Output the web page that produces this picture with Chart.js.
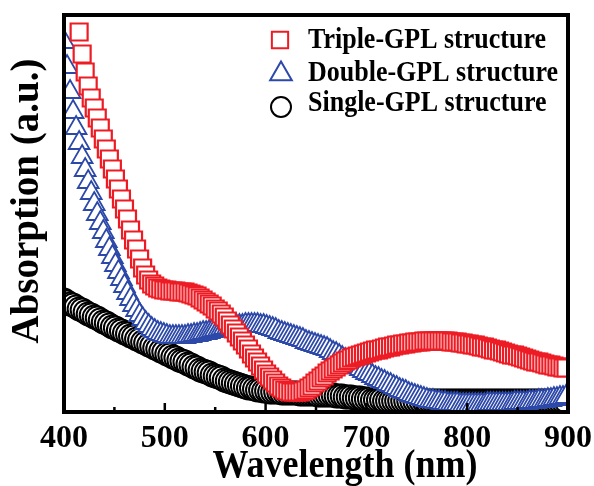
<!DOCTYPE html>
<html>
<head>
<meta charset="utf-8">
<script src="https://cdn.jsdelivr.net/npm/chart.js@4/dist/chart.umd.min.js"></script>
<style>
  html, body { margin: 0; padding: 0; background: #fff; }
  #wrap { width: 594px; height: 486px; }
</style>
</head>
<body>
<div id="wrap"><canvas id="c" width="594" height="486"></canvas></div>
<script>
// ---- data (absorption in arbitrary units) ----
const wavelengthStart = 400;   // nm
const wavelengthStep = 3;      // nm between samples

const tripleGPL = [
  495,475,455,433,405,380,358,340,326,314,304,294,284,273,263,253,243,233,223,213,
  203,193,182,172,163,153,144,137,132,128,126,124,123,122,122,121,121,121,120,120,
  120,119,118,117,116,114,112,110,108,106,103,101,98,95,91,87,83,79,75,71,
  67,63,58,54,50,46,42,38,35,32,29,26,24,22,21,20,20,20,20,21,
  22,24,26,29,31,34,36,39,41,43,45,47,49,51,52,54,55,56,57,58,
  59,60,61,62,62,63,64,65,65,66,67,67,68,68,69,69,70,70,70,71,
  71,71,71,71,71,71,71,71,70,70,70,69,69,68,68,67,67,66,65,65,
  64,63,62,62,61,60,59,58,57,57,56,55,54,53,52,51,50,50,49,48,
  47,47,46,45,45,44,44
];

const doubleGPL = [
  370,345,320,300,284,269,255,242,230,219,208,198,189,180,171,163,155,147,140,133,
  126,119,113,107,102,97,93,89,86,83,81,79,78,77,76,75,75,75,75,75,
  75,76,76,77,77,78,79,79,80,81,82,82,83,84,84,85,85,86,86,86,
  87,87,87,87,87,86,86,85,84,83,82,80,79,78,77,76,75,74,73,72,
  70,69,68,67,66,65,64,63,61,59,58,56,54,52,50,48,47,45,43,41,
  39,38,36,34,33,31,30,28,27,25,24,22,21,20,18,17,16,15,14,13,
  12,11,11,10,10,9,9,8,8,8,8,7,7,7,7,7,7,7,7,7,
  8,8,8,8,8,8,8,8,8,9,9,9,9,9,10,10,10,11,11,11,
  12,12,13,13,14,14,15
];

const singleGPL = [
  112,110,108,107,105,103,102,100,98,97,95,94,92,90,89,87,85,84,82,81,
  79,78,76,75,73,72,70,69,67,66,64,63,61,60,58,57,55,54,52,51,
  50,48,47,45,44,42,41,40,39,37,36,35,34,32,31,30,29,28,27,26,
  25,24,24,23,22,22,21,21,20,20,20,20,19,19,19,19,19,19,18,18,
  18,18,18,18,17,17,17,17,17,17,16,16,16,15,15,15,14,14,14,13,
  13,13,12,12,12,12,11,11,11,11,11,11,11,11,11,11,11,11,11,11,
  11,11,11,11,11,11,11,11,11,11,11,11,11,11,11,11,11,11,11,11,
  11,11,11,11,11,11,11,11,11,11,11,11,11,11,11,11,11,11,11,11,
  11,11,11,11,11,11,11
];

const seriesNames = ['Triple-GPL structure', 'Double-GPL structure', 'Single-GPL structure'];
const xTickValues = [400, 500, 600, 700, 800, 900];
const xMinorTickValues = [450, 550, 650, 750, 850];
const xTitle = 'Wavelength (nm)';
const yTitle = 'Absorption (a.u.)';

// ---- build points ----
const wavelengths = tripleGPL.map((_, i) => wavelengthStart + i * wavelengthStep);
const toPoints = arr => arr.map((v, i) => ({ x: wavelengths[i], y: v }));

const RED = 'rgb(237,28,36)';
const BLUE = 'rgb(44,72,168)';
const BLACK = '#000';
const FONT = "'Liberation Serif', 'Times New Roman', serif";

const styles = [
  { color: RED,   pointStyle: 'rect',     radius: 12,   bw: 2.2, legendR: 11.5 },
  { color: BLUE,  pointStyle: 'triangle', radius: 12,   bw: 1.8, legendR: 12.5 },
  { color: BLACK, pointStyle: 'circle',   radius: 11.5, bw: 2.0, legendR: 10 }
];
const seriesData = [tripleGPL, doubleGPL, singleGPL];

const datasets = seriesData.map((arr, k) => ({
  label: seriesNames[k],
  data: toPoints(arr),
  showLine: false,
  pointStyle: styles[k].pointStyle,
  pointRadius: styles[k].radius,
  pointBorderWidth: styles[k].bw,
  pointBorderColor: styles[k].color,
  pointBackgroundColor: '#fff',
  pointHoverRadius: styles[k].radius,
  clip: 0
}));

function stretchedText(ctx, text, x, y, sy) {
  ctx.save();
  ctx.translate(x, y);
  ctx.scale(1, sy);
  ctx.fillText(text, 0, 0);
  ctx.restore();
}

const decorPlugin = {
  id: 'decor',
  afterDatasetsDraw(chart) {
    const { ctx, chartArea: a, scales: { x } } = chart;
    ctx.save();
    // inward ticks on bottom axis
    ctx.strokeStyle = '#000';
    ctx.lineCap = 'butt';
    ctx.lineWidth = 2.5;
    ctx.beginPath();
    xTickValues.forEach(v => {
      const px = x.getPixelForValue(v);
      ctx.moveTo(px, a.bottom); ctx.lineTo(px, a.bottom - 9);
    });
    xMinorTickValues.forEach(v => {
      const px = x.getPixelForValue(v);
      ctx.moveTo(px, a.bottom); ctx.lineTo(px, a.bottom - 5);
    });
    ctx.stroke();
    // frame
    ctx.lineWidth = 4;
    ctx.strokeRect(a.left, a.top, a.right - a.left, a.bottom - a.top);

    // legend
    const rows = [
      { mx: 280, my: 40, ty: 48 },
      { mx: 281, my: 74, ty: 81 },
      { mx: 281, my: 107, ty: 111 }
    ];
    rows.forEach((r, k) => {
      ctx.fillStyle = '#fff';
      ctx.strokeStyle = styles[k].color;
      ctx.lineWidth = 2;
      Chart.helpers.drawPoint(ctx, {
        pointStyle: styles[k].pointStyle, radius: styles[k].legendR, rotation: 0, borderWidth: 2
      }, r.mx, r.my);
      ctx.fillStyle = '#000';
      ctx.font = 'bold 26px ' + FONT;
      ctx.textAlign = 'left';
      ctx.textBaseline = 'alphabetic';
      stretchedText(ctx, seriesNames[k], 308, r.ty, 1.1);
    });
    ctx.restore();
  },
  afterDraw(chart) {
    const { ctx } = chart;
    ctx.save();
    ctx.fillStyle = '#000';
    ctx.textBaseline = 'alphabetic';
    ctx.textAlign = 'center';
    ctx.font = 'bold 36px ' + FONT;
    stretchedText(ctx, xTitle, 345, 477, 1.1);
    ctx.translate(38, 201);
    ctx.rotate(-Math.PI / 2);
    ctx.font = 'bold 39px ' + FONT;
    ctx.fillText(yTitle, 0, 0);
    ctx.restore();
  }
};

new Chart(document.getElementById('c'), {
  type: 'scatter',
  data: { datasets },
  options: {
    responsive: false,
    devicePixelRatio: 1,
    animation: false,
    events: [],
    layout: { padding: { left: 64, top: 15, right: 26, bottom: 0 } },
    plugins: { legend: { display: false }, tooltip: { enabled: false }, title: { display: false } },
    scales: {
      x: {
        type: 'linear',
        min: 400, max: 900,
        grid: { display: false },
        border: { display: false },
        ticks: {
          stepSize: 100,
          padding: 0,
          color: '#000',
          font: { family: FONT, size: 32, weight: 'bold' },
          maxRotation: 0
        },
        afterFit(scale) {
          scale.height = 74;
          scale.paddingLeft = 0;
          scale.paddingRight = 0;
        }
      },
      y: {
        display: false,
        min: 0, max: 397
      }
    }
  },
  plugins: [decorPlugin]
});
</script>
</body>
</html>
